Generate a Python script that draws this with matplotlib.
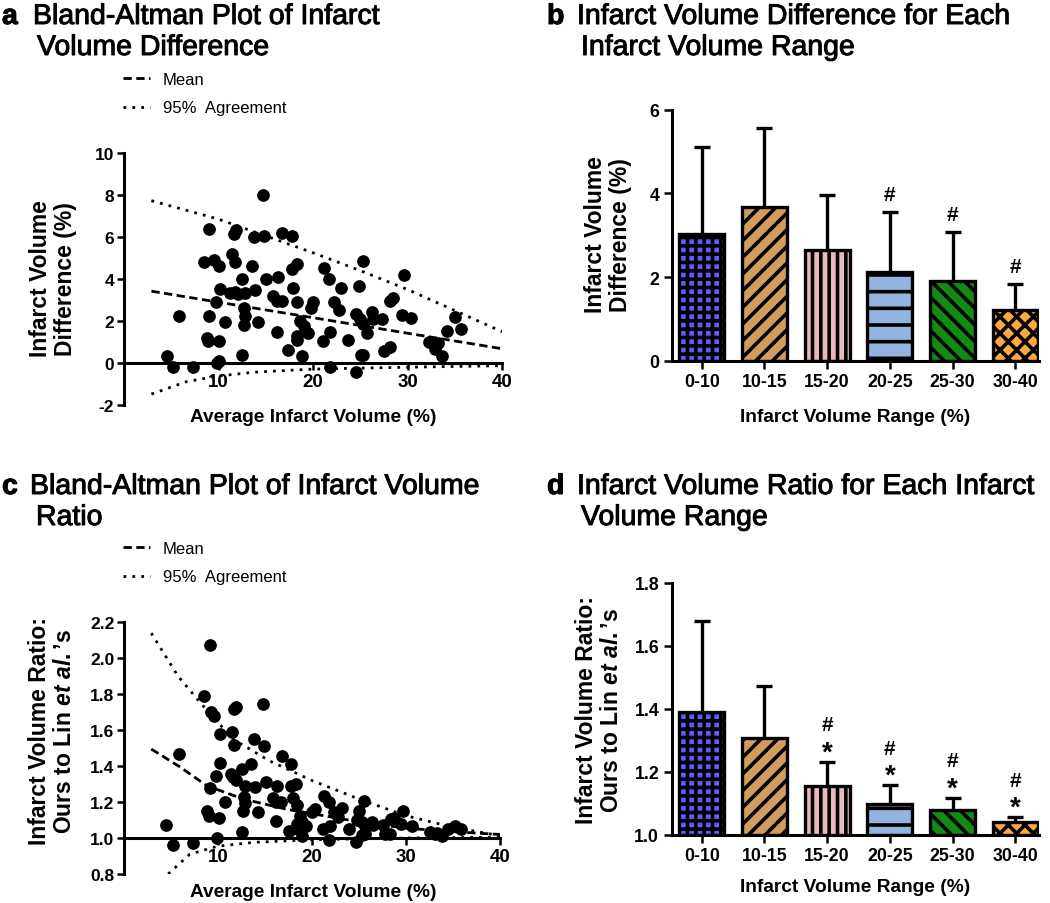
import numpy as np
import matplotlib
matplotlib.use('Agg')
import matplotlib.pyplot as plt
import matplotlib.patheffects as pe

plt.rcParams['font.family'] = ['Liberation Sans', 'DejaVu Sans']
plt.rcParams['hatch.linewidth'] = 2.6
plt.rcParams['mathtext.fontset'] = 'custom'
plt.rcParams['mathtext.it'] = 'Liberation Sans:italic:bold'
plt.rcParams['mathtext.rm'] = 'Liberation Sans:bold'

# ---- data: panel a (Bland-Altman, difference) ----
avg_a = [4.5, 5.2, 5.85, 7.3, 14.7, 9.0, 8.5, 9.5, 10.1, 11.4, 11.7, 11.6, 11.85,
         9.0, 8.75, 8.9, 10.1, 9.8, 10.0, 9.7, 10.2, 10.7, 11.2, 11.7, 12.1, 12.8,
         12.45, 12.45, 12.7, 12.8, 12.7, 13.5, 13.9, 14.2, 13.8, 14.8, 15.0, 15.8,
         16.2, 16.7, 16.2, 16.3, 16.75, 17.75, 17.4, 17.9, 17.75, 18.3, 18.3, 18.3,
         18.3, 18.6, 19.05, 19.5, 18.8, 20.0, 19.8, 21.2, 21.7, 21.1, 21.8, 21.8,
         22.2, 22.7, 23.0, 23.7, 24.6, 25.3, 24.9, 24.6, 25.0, 25.3, 25.7, 25.05,
         25.3, 26.2, 26.4, 27.3, 27.5, 28.1, 28.1, 28.5, 29.6, 29.4, 30.4, 32.3,
         32.8, 33.2, 32.9, 33.7, 34.2, 35.0, 35.7]
diff_a = [0.32, -0.21, 2.25, -0.2, 8.0, 6.38, 4.82, 4.92, 4.63, 5.19, 4.82, 6.14, 6.35,
          2.25, 1.18, 1.06, 1.06, 0.0, 0.11, 2.89, 3.52, 1.94, 3.33, 3.4, 3.29, 3.33,
          4.0, 0.38, 2.6, 2.25, 1.81, 4.63, 3.48, 1.94, 5.98, 6.03, 4.0, 3.2,
          2.97, 2.97, 1.49, 4.08, 6.19, 6.03, 0.63, 3.56, 4.48, 4.71, 2.92, 1.3,
          1.1, 2.01, 1.75, 1.43, 0.32, 2.92, 2.6, 4.51, 4.0, 1.06, 1.49, -0.2,
          2.89, 2.54, 3.56, 1.11, -0.41, 4.87, 3.65, 2.33, 2.1, 1.86, 1.43, 0.38,
          0.38, 2.41, 2.1, 2.1, 0.59, 0.75, 2.97, 3.08, 4.19, 2.29, 2.13, 1.02,
          0.9, 0.95, 0.67, 0.35, 1.54, 2.17, 1.62]
mean_a_x = [2.9, 40]
mean_a_y = [3.42, 0.68]
upper_a_x = [2.9, 10, 15, 20, 25, 30, 35, 40]
upper_a_y = [7.73, 6.85, 6.05, 5.25, 4.4, 3.5, 2.5, 1.49]
lower_a_x = [2.9, 6.6, 9.8, 13.7, 20, 30, 40]
lower_a_y = [-1.48, -0.89, -0.63, -0.44, -0.29, -0.2, -0.13]

# ---- data: panel c (Bland-Altman, ratio) ----
avg_c = [4.5, 5.2, 5.9, 7.3, 9.1, 8.5, 9.3, 9.6, 10.2, 11.5, 11.7, 11.9, 11.7, 14.8,
         13.8, 14.9, 16.8, 17.8, 10.2, 9.75, 9.1, 11.35, 11.6, 11.9, 12.5, 13.5,
         12.9, 12.8, 12.9, 12.7, 10.7, 8.8, 9.0, 10.1, 9.9, 12.5, 13.95, 14.3, 15.1,
         15.9, 16.2, 16.75, 16.2, 16.3, 17.5, 17.8, 18.3, 18.0, 18.4, 18.7, 18.9,
         18.4, 18.55, 18.9, 19.4, 20.0, 20.3, 21.3, 21.85, 21.2, 21.9, 21.85, 22.3,
         22.8, 23.2, 23.9, 24.7, 24.8, 25.0, 25.5, 25.3, 25.6, 25.3, 25.6, 26.35,
         26.5, 27.5, 27.8, 28.3, 28.4, 28.7, 29.65, 29.5, 30.6, 32.55, 33.1, 33.3,
         33.8, 34.5, 35.2, 35.8]
ratio_c = [1.073, 0.961, 1.467, 0.973, 2.074, 1.788, 1.70, 1.68, 1.58, 1.59, 1.72, 1.73,
           1.52, 1.745, 1.55, 1.51, 1.455, 1.41, 1.417, 1.347, 1.28, 1.356, 1.338,
           1.325, 1.384, 1.412, 1.291, 1.227, 1.195, 1.152, 1.202, 1.152, 1.124, 1.11,
           0.999, 1.032, 1.282, 1.147, 1.31, 1.221, 1.199, 1.202, 1.097, 1.291, 1.041,
           1.291, 1.30, 1.221, 1.184, 1.124, 1.088, 1.078, 1.05, 1.013, 1.069, 1.147,
           1.162, 1.236, 1.202, 1.05, 1.065, 0.991, 1.143, 1.115, 1.165, 1.05, 0.98,
           1.102, 1.152, 1.208, 1.091, 1.069, 1.017, 1.022, 1.091, 1.073, 1.073,
           1.022, 1.022, 1.106, 1.11, 1.152, 1.078, 1.069, 1.032, 1.022, 1.028, 1.01,
           1.05, 1.069, 1.05]
mean_c_x = [2.9, 6, 8.8, 12.7, 17.3, 25, 30, 35, 40]
mean_c_y = [1.495, 1.394, 1.291, 1.217, 1.16, 1.09, 1.055, 1.035, 1.02]
upper_c_x = [2.9, 5.75, 8.4, 11.6, 15.45, 20, 25, 30, 35, 40]
upper_c_y = [2.14, 1.90, 1.736, 1.55, 1.43, 1.32, 1.217, 1.124, 1.06, 1.013]
lower_c_x = [4.7, 7, 9.9, 13.8, 20, 30, 40]
lower_c_y = [0.80, 0.91, 0.954, 0.976, 0.991, 1.0, 1.005]

# ---- data: bar panels ----
ranges = ['0-10', '10-15', '15-20', '20-25', '25-30', '30-40']
diff_mean = [3.03, 3.67, 2.65, 2.11, 1.91, 1.22]
diff_sd = [2.09, 1.89, 1.31, 1.44, 1.16, 0.61]
diff_hash = ['', '', '', '#', '#', '#']
ratio_mean = [1.391, 1.306, 1.156, 1.097, 1.078, 1.041]
ratio_sd = [0.289, 0.166, 0.076, 0.061, 0.040, 0.016]
ratio_hash = ['', '', '#', '#', '#', '#']
ratio_star = ['', '', '*', '*', '*', '*']

bar_colors = ['#5c5cff', '#d29d5c', '#e8baba', '#93b4e0', '#138a13', '#ffa83f']
bar_hatches = ['++', '//', '||', '-', '\\\\', 'xx']

W, H = 1050, 904
fig = plt.figure(figsize=(W / 100, H / 100), dpi=100)


def rect(left, right, top, bottom):
    return [left / W, 1 - bottom / H, (right - left) / W, (bottom - top) / H]


def ftext(px, py, s, **kw):
    fig.text(px / W, 1 - py / H, s, **kw)


def bold_ticks(ax):
    for lab in ax.get_xticklabels() + ax.get_yticklabels():
        lab.set_fontweight('bold')


def scatter_panel(ax, xs, ys, mx, my, ux, uy, lx, ly, ylim, yticks, base, fmt):
    l1, = ax.plot(mx, my, color='black', lw=2, ls=(0, (3, 1.6)), zorder=2)
    l2, = ax.plot(ux, uy, color='black', lw=2, ls=(0, (1, 2.2)), zorder=2)
    ax.plot(lx, ly, color='black', lw=2, ls=(0, (1, 2.2)), zorder=2)
    ax.scatter(xs, ys, s=66, color='black', zorder=3, clip_on=False)
    ax.set_xlim(0, 40)
    ax.set_ylim(*ylim)
    ax.spines['top'].set_visible(False)
    ax.spines['right'].set_visible(False)
    ax.spines['bottom'].set_position(('data', base))
    for sp in ('left', 'bottom'):
        ax.spines[sp].set_linewidth(2.2)
    ax.set_xticks([10, 20, 30, 40])
    ax.set_yticks(yticks)
    ax.set_yticklabels([fmt.format(v) for v in yticks])
    ax.tick_params(width=1.8, length=5, labelsize=12.5, pad=2)
    ax.tick_params(axis='x', labelsize=13.5)
    bold_ticks(ax)
    return l1, l2


def bar_panel(ax, means, sds, base, ylim, yticks, fmt):
    x = np.arange(len(ranges))
    heights = np.array(means) - base
    ax.errorbar(x, means, yerr=sds, fmt='none', ecolor='black', elinewidth=2.4,
                capsize=6, capthick=2.4, zorder=1)
    bars = ax.bar(x, heights, bottom=base, width=0.72, color=bar_colors,
                  edgecolor='black', linewidth=2.4, zorder=2)
    for b, h in zip(bars, bar_hatches):
        b.set_hatch(h)
    ax.set_xlim(-0.48, 5.38)
    ax.set_ylim(*ylim)
    ax.spines['top'].set_visible(False)
    ax.spines['right'].set_visible(False)
    for sp in ('left', 'bottom'):
        ax.spines[sp].set_linewidth(2.2)
    ax.set_xticks(x)
    ax.set_xticklabels(ranges)
    ax.set_yticks(yticks)
    ax.set_yticklabels([fmt.format(v) for v in yticks])
    ax.tick_params(width=1.8, length=6, labelsize=12.8, pad=3)
    bold_ticks(ax)
    return x


# panel a
ax_a = fig.add_axes(rect(124, 502, 154, 406))
la, lb = scatter_panel(ax_a, avg_a, diff_a, mean_a_x, mean_a_y, upper_a_x, upper_a_y,
                       lower_a_x, lower_a_y, (-2, 10), [-2, 0, 2, 4, 6, 8, 10], 0, '{:g}')
ax_a.legend([la, lb], ['Mean', '95%  Agreement'], loc='upper left',
            bbox_to_anchor=(123 / W, 1 - 73 / H), bbox_transform=fig.transFigure,
            frameon=False, fontsize=12, handlelength=1.6, handletextpad=0.78,
            labelspacing=0.8, borderaxespad=0, borderpad=0)

# panel c
ax_c = fig.add_axes(rect(124, 500, 623.3, 875))
lc, ld = scatter_panel(ax_c, avg_c, ratio_c, mean_c_x, mean_c_y, upper_c_x, upper_c_y,
                       lower_c_x, lower_c_y, (0.8, 2.2),
                       [0.8, 1.0, 1.2, 1.4, 1.6, 1.8, 2.0, 2.2], 1.0, '{:.1f}')
ax_c.legend([lc, ld], ['Mean', '95%  Agreement'], loc='upper left',
            bbox_to_anchor=(123 / W, 1 - 542 / H), bbox_transform=fig.transFigure,
            frameon=False, fontsize=12, handlelength=1.6, handletextpad=0.78,
            labelspacing=0.8, borderaxespad=0, borderpad=0)

# panel b
ax_b = fig.add_axes(rect(671.7, 1039, 110.7, 361.7))
xb = bar_panel(ax_b, diff_mean, diff_sd, 0, (0, 6), [0, 2, 4, 6], '{:g}')
for i, s in enumerate(diff_hash):
    if s:
        ax_b.annotate(s, xy=(xb[i], diff_mean[i] + diff_sd[i]), xytext=(0, 9),
                      textcoords='offset points', ha='center', va='baseline',
                      fontsize=15, fontweight='bold')

# panel d
ax_d = fig.add_axes(rect(671.7, 1039, 584, 835.7))
xd = bar_panel(ax_d, ratio_mean, ratio_sd, 1.0, (1.0, 1.8), [1.0, 1.2, 1.4, 1.6, 1.8], '{:.1f}')
for i in range(len(ranges)):
    top = ratio_mean[i] + ratio_sd[i]
    if ratio_hash[i]:
        ax_d.annotate(ratio_hash[i], xy=(xd[i], top), xytext=(0, 22.5),
                      textcoords='offset points', ha='center', va='baseline',
                      fontsize=15, fontweight='bold')
    if ratio_star[i]:
        ax_d.annotate(ratio_star[i], xy=(xd[i], top), xytext=(0, 1.6),
                      textcoords='offset points', ha='center', va='baseline',
                      fontsize=20, fontweight='bold')

# titles
heavy = [pe.withStroke(linewidth=0.7, foreground='black')]
tkw = dict(fontsize=20.5, ha='left', va='baseline', path_effects=heavy)
ftext(2, 25, 'a', fontweight='bold', **tkw)
ftext(33, 25, 'Bland-Altman Plot of Infarct', **tkw)
ftext(37, 56, 'Volume Difference', **tkw)
ftext(547, 25, 'b', fontweight='bold', **tkw)
ftext(577, 25, 'Infarct Volume Difference for Each', **tkw)
ftext(581, 56, 'Infarct Volume Range', **tkw)
ftext(2, 495, 'c', fontweight='bold', **tkw)
ftext(30, 495, 'Bland-Altman Plot of Infarct Volume', **tkw)
ftext(36, 526, 'Ratio', **tkw)
ftext(547, 495, 'd', fontweight='bold', **tkw)
ftext(577, 495, 'Infarct Volume Ratio for Each Infarct', **tkw)
ftext(581, 526, 'Volume Range', **tkw)

# axis labels
ykw = dict(fontsize=16.5, fontweight='bold', rotation=90, ha='center', va='center',
           multialignment='center', linespacing=1.15)
ftext(53, 279, 'Infarct Volume\nDifference (%)', **ykw)
ftext(608, 235, 'Infarct Volume\nDifference (%)', **ykw)
ftext(52, 731, 'Infarct Volume Ratio:\nOurs to Lin $\\mathit{et\\ al.}$\u2019s', **ykw)
ftext(599, 710, 'Infarct Volume Ratio:\nOurs to Lin $\\mathit{et\\ al.}$\u2019s', **ykw)

xkw = dict(fontsize=13.8, fontweight='bold', ha='center', va='center')
ftext(313, 418, 'Average Infarct Volume (%)', **xkw)
ftext(855, 418, 'Infarct Volume Range (%)', **xkw)
ftext(313, 893, 'Average Infarct Volume (%)', **xkw)
ftext(855, 888, 'Infarct Volume Range (%)', **xkw)

fig.savefig('out.png', dpi=100)
